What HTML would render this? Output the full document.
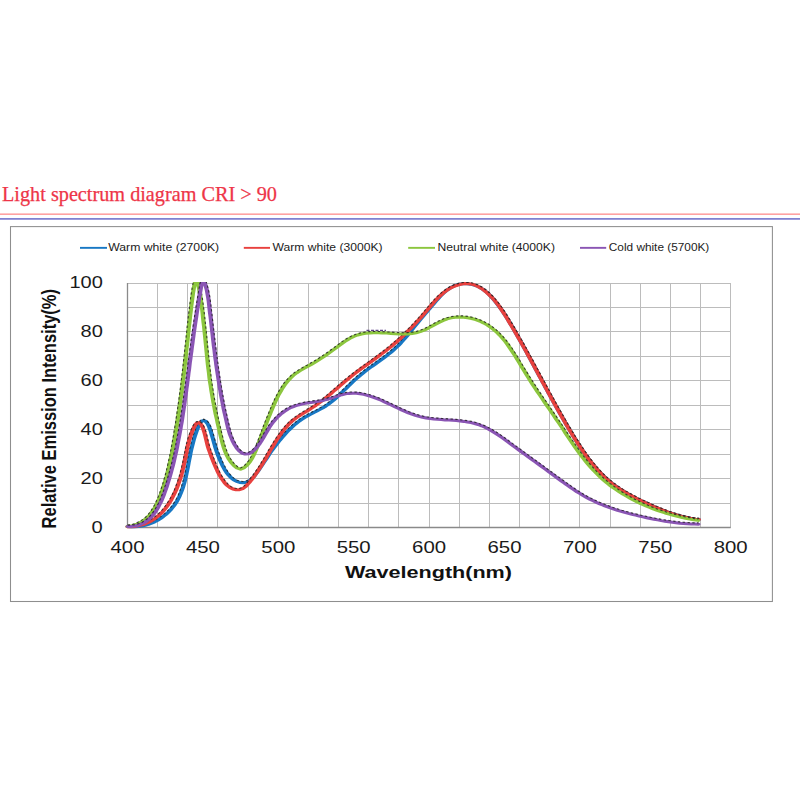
<!DOCTYPE html>
<html lang="en"><head><meta charset="utf-8"><title>Light spectrum diagram CRI &gt; 90</title>
<style>
html,body{margin:0;padding:0;background:#fff}
body{width:800px;height:800px;position:relative;overflow:hidden;font-family:"Liberation Sans",sans-serif}
svg text{font-family:"Liberation Sans",sans-serif}
svg text.ttl{font-family:"Liberation Serif",serif}
</style></head><body>
<svg width="800" height="800" viewBox="0 0 800 800" style="position:absolute;left:0;top:0">
<rect x="0" y="213.6" width="800" height="1.05" fill="#ff7070"/>
<rect x="0" y="218.1" width="800" height="1.6" fill="#7474cc"/>
<rect x="10.5" y="226.6" width="761.9" height="374.9" fill="#fff" stroke="#8e8e8e" stroke-width="1.05"/>
<path d="M127.5 283.0V527.5M157.5 283.0V527.5M187.5 283.0V527.5M217.5 283.0V527.5M248.5 283.0V527.5M278.5 283.0V527.5M308.5 283.0V527.5M338.5 283.0V527.5M368.5 283.0V527.5M398.5 283.0V527.5M429.5 283.0V527.5M459.5 283.0V527.5M489.5 283.0V527.5M519.5 283.0V527.5M549.5 283.0V527.5M579.5 283.0V527.5M610.5 283.0V527.5M640.5 283.0V527.5M670.5 283.0V527.5M700.5 283.0V527.5M730.5 283.0V527.5M127.5 527.5H730.7M127.5 503.5H730.7M127.5 478.5H730.7M127.5 454.5H730.7M127.5 429.5H730.7M127.5 405.5H730.7M127.5 380.5H730.7M127.5 356.5H730.7M127.5 331.5H730.7M127.5 307.5H730.7M127.5 283.5H730.7" fill="none" stroke="#bcbcbc" stroke-width="1"/>
<path d="M127.50 283.00V527.50H730.70" fill="none" stroke="#8a8a8a" stroke-width="1.3"/>
<clipPath id="pc"><rect x="124.5" y="282.1" width="609.2" height="247.7"/></clipPath>
<g clip-path="url(#pc)" fill="none">
<path d="M91.2 526.6L93.7 526.8L96.2 526.8L98.7 526.6L101.2 526.1L103.6 525.3L105.9 524.4L108.2 523.2L110.4 521.9L112.5 520.3L114.5 518.6L116.5 516.6L118.4 514.5L120.1 512.3L121.8 509.9L123.3 507.3L124.8 504.7L126.1 501.9L127.2 498.9L128.3 495.9L129.2 492.8L130.1 489.6L130.9 486.3L131.6 483.0L132.2 479.7L132.8 476.3L133.3 472.9L133.8 469.5L134.3 466.1L134.7 462.7L135.2 459.4L135.7 456.1L136.1 452.8L136.6 449.5L137.2 446.2L137.8 442.9L138.4 439.7L139.1 436.4L139.9 433.1L140.7 429.8L141.7 426.5L142.8 423.4L144.0 421.2L145.4 420.5L146.9 421.4L148.3 423.7L149.4 426.8L150.4 430.5L151.2 434.4L152.0 438.3L152.7 441.8L153.4 445.1L154.0 448.2L154.7 451.1L155.4 454.0L156.2 456.8L157.1 459.8L158.1 463.0L159.2 466.2L160.4 469.3L161.8 472.4L163.4 475.2L165.1 477.7L166.9 479.8L169.0 481.4L171.3 482.4L173.6 482.8L175.9 482.3L178.0 481.0L179.9 478.8L181.6 476.2L183.1 473.4L184.6 470.5L186.0 467.7L187.3 464.9L188.6 462.1L190.0 459.3L191.3 456.5L192.6 453.7L194.0 450.9L195.4 448.2L196.9 445.5L198.4 442.8L199.9 440.1L201.5 437.5L203.1 434.9L204.7 432.4L206.4 430.0L208.2 427.6L209.9 425.3L211.8 423.2L213.7 421.1L215.7 419.2L217.7 417.3L219.8 415.7L222.0 414.1L224.1 412.5L226.3 411.0L228.5 409.4L230.6 407.8L232.7 406.0L234.6 404.1L236.6 402.0L238.4 399.9L240.3 397.7L242.0 395.4L243.8 393.1L245.5 390.7L247.3 388.3L249.0 385.9L250.7 383.6L252.5 381.2L254.3 378.9L256.1 376.7L258.0 374.5L259.8 372.4L261.8 370.3L263.7 368.3L265.7 366.3L267.7 364.4L269.6 362.4L271.6 360.4L273.6 358.4L275.5 356.4L277.4 354.3L279.3 352.2L281.1 350.0L282.9 347.7L284.7 345.3L286.4 342.8L288.0 340.3L289.6 337.7L291.2 335.1L292.7 332.4L294.3 329.7L295.8 327.1L297.3 324.5L298.8 321.9L300.4 319.3L301.9 316.8L303.4 314.2L305.0 311.7L306.5 309.1L308.1 306.5L309.7 303.9L311.3 301.2L313.0 298.6L314.7 296.0L316.4 293.6L318.3 291.3L320.2 289.3L322.2 287.5L324.3 286.0L326.5 284.9L328.8 284.1L331.2 283.8L333.7 283.8L336.1 284.2L338.5 285.0L340.8 286.1L342.9 287.6L345.0 289.4L346.9 291.4L348.7 293.6L350.5 296.1L352.1 298.6L353.7 301.2L355.2 303.9L356.7 306.7L358.1 309.4L359.5 312.3L360.8 315.1L362.1 318.0L363.4 320.9L364.6 323.8L365.9 326.7L367.1 329.6L368.3 332.6L369.5 335.5L370.7 338.5L371.9 341.4L373.1 344.4L374.2 347.3L375.4 350.3L376.6 353.3L377.7 356.3L378.9 359.2L380.0 362.2L381.2 365.2L382.3 368.2L383.5 371.2L384.6 374.2L385.8 377.1L386.9 380.1L388.1 383.1L389.2 386.1L390.4 389.1L391.5 392.1L392.7 395.0L393.9 398.0L395.0 401.0L396.2 404.0L397.4 406.9L398.6 409.9L399.8 412.9L401.0 415.8L402.2 418.8L403.4 421.7L404.6 424.6L405.9 427.6L407.1 430.5L408.4 433.4L409.6 436.3L410.9 439.2L412.2 442.1L413.5 445.0L414.9 447.9L416.2 450.7L417.6 453.5L419.0 456.3L420.5 459.0L421.9 461.7L423.5 464.3L425.0 466.9L426.6 469.5L428.2 471.9L429.9 474.4L431.6 476.7L433.3 479.0L435.1 481.2L437.0 483.3L438.9 485.3L440.9 487.3L442.9 489.2L445.0 491.0L447.1 492.7L449.2 494.4L451.4 496.1L453.5 497.6L455.7 499.2L457.9 500.7L460.2 502.1L462.4 503.6L464.6 505.0L466.8 506.4L469.0 507.7L471.2 509.0L473.5 510.3L475.7 511.5L478.0 512.6L480.3 513.7L482.6 514.7L484.9 515.7L487.2 516.5L489.6 517.3L491.9 518.0L494.3 518.7L496.8 519.2L499.2 519.6" transform="scale(1.400,1)" stroke="#1878c4" stroke-width="3.0" stroke-linecap="round" stroke-linejoin="round"/>
<path d="M127.8 525.3L131.3 525.6L134.7 525.6L138.0 525.3L141.3 524.8L144.6 524.1L147.7 523.2L150.8 522.1L153.8 520.7L156.7 519.2L159.4 517.5L162.1 515.6L164.6 513.6L167.0 511.4L169.2 509.1L171.3 506.6L173.3 503.9L175.0 501.2L176.6 498.4L178.1 495.4L179.4 492.3L180.5 489.2L181.6 486.0L182.6 482.7L183.4 479.4L184.2 476.0L185.0 472.6L185.7 469.3L186.3 465.9L187.0 462.5L187.6 459.2L188.3 455.8L188.9 452.5L189.6 449.2L190.4 445.9L191.2 442.6L192.1 439.3L193.1 436.0L194.2 432.7L195.5 429.3L196.8 426.0L198.5 422.8L200.6 420.2L203.7 419.2L206.8 420.5L209.0 423.0L210.7 426.3L212.2 430.1L213.4 434.1L214.4 438.0L215.4 441.5L216.4 444.8L217.3 447.8L218.2 450.7L219.2 453.5L220.3 456.4L221.5 459.3L222.9 462.4L224.4 465.6L226.1 468.7L227.9 471.7L230.0 474.4L232.2 476.8L234.7 478.8L237.3 480.3L240.1 481.2L243.0 481.5L245.8 481.1L248.4 479.9L250.7 477.9L252.9 475.4L255.0 472.6L257.0 469.8L258.9 467.0L260.8 464.2L262.7 461.4L264.5 458.6L266.4 455.8L268.3 453.0L270.2 450.2L272.3 447.4L274.3 444.7L276.4 442.0L278.6 439.3L280.8 436.7L283.1 434.1L285.4 431.6L287.8 429.1L290.3 426.7L292.8 424.4L295.4 422.2L298.2 420.1L301.0 418.1L303.9 416.3L306.9 414.6L310.0 413.0L313.0 411.4L316.1 409.9L319.1 408.3L322.0 406.7L324.8 404.9L327.5 403.0L330.1 401.0L332.7 398.9L335.2 396.8L337.7 394.5L340.1 392.2L342.6 389.8L345.0 387.4L347.4 385.0L349.9 382.7L352.3 380.3L354.9 378.0L357.4 375.7L360.1 373.5L362.7 371.4L365.5 369.3L368.2 367.3L371.0 365.3L373.7 363.3L376.5 361.4L379.3 359.4L382.0 357.4L384.7 355.4L387.3 353.3L389.9 351.2L392.5 349.0L394.9 346.8L397.3 344.4L399.7 342.0L401.9 339.5L404.2 336.9L406.4 334.3L408.5 331.6L410.7 329.0L412.8 326.3L414.9 323.7L417.1 321.1L419.2 318.5L421.3 316.0L423.5 313.4L425.7 310.9L427.8 308.3L430.0 305.7L432.3 303.0L434.6 300.4L436.9 297.7L439.3 295.2L441.8 292.7L444.5 290.4L447.2 288.3L450.2 286.4L453.3 284.9L456.6 283.7L460.0 282.9L463.6 282.5L467.2 282.6L470.8 283.0L474.4 283.8L477.8 285.0L480.9 286.5L483.9 288.3L486.7 290.4L489.4 292.7L491.9 295.2L494.2 297.8L496.5 300.5L498.6 303.2L500.7 305.9L502.7 308.7L504.7 311.6L506.6 314.4L508.4 317.3L510.2 320.2L511.9 323.1L513.7 326.1L515.4 329.0L517.1 331.9L518.8 334.9L520.4 337.8L522.1 340.8L523.8 343.8L525.4 346.7L527.0 349.7L528.7 352.7L530.3 355.7L531.9 358.6L533.5 361.6L535.1 364.6L536.8 367.6L538.4 370.6L540.0 373.6L541.6 376.5L543.2 379.5L544.8 382.5L546.4 385.5L548.0 388.5L549.6 391.5L551.3 394.4L552.9 397.4L554.5 400.4L556.2 403.4L557.8 406.3L559.5 409.3L561.1 412.2L562.8 415.2L564.5 418.1L566.2 421.1L567.9 424.0L569.7 426.9L571.4 429.9L573.2 432.8L574.9 435.7L576.7 438.6L578.6 441.5L580.4 444.3L582.3 447.2L584.1 450.0L586.1 452.8L588.0 455.5L590.0 458.3L592.1 460.9L594.2 463.5L596.3 466.1L598.5 468.6L600.7 471.1L603.0 473.5L605.4 475.8L607.8 478.1L610.3 480.2L612.9 482.3L615.5 484.3L618.2 486.3L621.0 488.1L623.9 489.9L626.8 491.7L629.7 493.3L632.7 494.9L635.7 496.5L638.8 498.1L641.9 499.6L644.9 501.0L648.0 502.5L651.1 503.9L654.2 505.2L657.3 506.6L660.4 507.9L663.5 509.1L666.6 510.3L669.8 511.4L672.9 512.5L676.1 513.5L679.3 514.5L682.5 515.3L685.8 516.1L689.0 516.8L692.3 517.4L695.7 517.9L699.1 518.4" stroke="#1e1e1e" stroke-opacity=".8" stroke-width="1.1" stroke-dasharray="2.4 2.4"/>
<path d="M91.0 526.8L93.8 526.7L96.4 526.4L99.0 525.7L101.4 524.9L103.7 523.8L105.9 522.5L108.0 521.0L110.0 519.2L111.8 517.3L113.6 515.2L115.3 513.0L116.9 510.6L118.4 508.0L119.8 505.3L121.1 502.5L122.4 499.6L123.5 496.6L124.6 493.5L125.7 490.3L126.6 487.0L127.5 483.7L128.3 480.4L129.1 477.0L129.8 473.6L130.4 470.2L131.0 466.8L131.5 463.4L132.0 460.1L132.5 456.7L133.0 453.4L133.4 450.1L133.9 446.8L134.5 443.5L135.1 440.3L135.8 437.0L136.6 433.8L137.5 430.6L138.5 427.4L139.7 424.5L141.0 422.7L142.4 422.8L143.8 424.7L145.0 428.0L145.9 431.8L146.6 435.5L147.2 439.1L147.8 442.6L148.4 445.9L149.1 449.1L149.9 452.2L150.7 455.3L151.5 458.4L152.4 461.5L153.3 464.6L154.3 467.7L155.3 470.9L156.4 474.0L157.6 477.0L159.0 479.9L160.5 482.8L162.2 485.3L164.2 487.5L166.4 489.0L168.7 489.8L171.1 489.7L173.3 488.7L175.2 486.8L176.9 484.3L178.6 481.6L180.1 478.9L181.6 476.2L183.0 473.4L184.3 470.6L185.7 467.7L187.0 464.9L188.2 462.0L189.5 459.1L190.7 456.2L191.9 453.2L193.1 450.3L194.4 447.3L195.7 444.3L197.0 441.4L198.3 438.5L199.7 435.6L201.1 432.8L202.6 430.1L204.2 427.4L205.8 424.9L207.5 422.5L209.3 420.3L211.3 418.2L213.2 416.3L215.3 414.4L217.4 412.6L219.5 410.8L221.6 409.0L223.6 407.2L225.6 405.3L227.6 403.3L229.6 401.3L231.5 399.2L233.4 397.0L235.2 394.9L237.1 392.7L238.9 390.4L240.8 388.2L242.6 386.0L244.5 383.8L246.3 381.5L248.2 379.4L250.1 377.2L252.0 375.1L253.9 373.0L255.9 370.9L257.8 368.9L259.8 366.9L261.8 364.9L263.8 362.9L265.8 360.9L267.8 358.9L269.7 356.9L271.7 354.8L273.6 352.8L275.6 350.7L277.5 348.6L279.4 346.5L281.2 344.3L283.1 342.0L284.9 339.8L286.7 337.5L288.5 335.2L290.2 332.8L291.9 330.4L293.6 328.0L295.3 325.5L297.0 323.0L298.6 320.5L300.3 318.0L301.9 315.4L303.5 312.8L305.1 310.2L306.7 307.5L308.3 304.9L309.9 302.3L311.5 299.8L313.2 297.3L315.0 295.0L316.8 292.8L318.8 290.7L320.8 288.9L322.9 287.3L325.2 285.9L327.5 284.8L329.9 284.0L332.3 283.6L334.7 283.7L337.0 284.2L339.3 285.2L341.5 286.5L343.7 288.3L345.7 290.3L347.7 292.5L349.5 294.8L351.3 297.3L352.9 299.8L354.5 302.5L356.0 305.2L357.4 308.0L358.8 310.8L360.1 313.6L361.4 316.5L362.7 319.4L363.9 322.4L365.2 325.3L366.4 328.2L367.7 331.2L368.9 334.1L370.1 337.1L371.3 340.0L372.5 343.0L373.7 346.0L374.9 348.9L376.1 351.9L377.2 354.9L378.4 357.9L379.6 360.9L380.7 363.9L381.9 366.9L383.0 369.9L384.2 372.9L385.3 375.9L386.5 378.9L387.6 381.9L388.8 384.9L390.0 387.9L391.1 390.9L392.3 393.9L393.4 396.9L394.6 399.9L395.8 402.9L397.0 405.9L398.2 408.9L399.4 411.9L400.6 414.9L401.8 417.9L403.0 420.8L404.2 423.8L405.5 426.7L406.7 429.7L408.0 432.6L409.3 435.6L410.6 438.5L411.9 441.4L413.2 444.3L414.5 447.2L415.9 450.0L417.3 452.8L418.7 455.6L420.1 458.4L421.6 461.1L423.1 463.8L424.7 466.4L426.2 468.9L427.9 471.4L429.5 473.9L431.3 476.3L433.0 478.6L434.8 480.8L436.7 482.9L438.6 485.0L440.6 487.0L442.6 488.9L444.7 490.7L446.8 492.5L448.9 494.2L451.1 495.8L453.3 497.4L455.5 499.0L457.7 500.5L459.9 502.0L462.1 503.5L464.4 504.9L466.6 506.3L468.8 507.6L471.1 508.9L473.3 510.2L475.6 511.4L477.9 512.6L480.2 513.7L482.5 514.7L484.8 515.6L487.1 516.5L489.5 517.3L491.9 518.0L494.3 518.6L496.7 519.2L499.2 519.6" transform="scale(1.400,1)" stroke="#e8413e" stroke-width="3.0" stroke-linecap="round" stroke-linejoin="round"/>
<path d="M127.4 525.6L131.2 525.5L134.8 525.1L138.2 524.5L141.5 523.7L144.6 522.6L147.5 521.4L150.3 519.9L153.0 518.2L155.5 516.3L157.9 514.3L160.2 512.1L162.4 509.7L164.4 507.2L166.3 504.6L168.1 501.8L169.9 499.0L171.5 496.0L173.0 492.9L174.4 489.8L175.7 486.6L176.9 483.3L178.0 480.0L179.1 476.7L180.0 473.3L180.9 469.9L181.7 466.5L182.5 463.2L183.2 459.8L183.8 456.5L184.5 453.1L185.1 449.8L185.8 446.5L186.6 443.2L187.5 439.9L188.5 436.7L189.6 433.4L190.9 430.1L192.4 426.9L194.2 423.8L196.7 421.6L200.2 421.7L202.7 424.0L204.5 427.6L205.9 431.4L206.9 435.2L207.7 438.8L208.5 442.3L209.4 445.5L210.4 448.7L211.5 451.8L212.6 454.9L213.7 457.9L215.0 461.0L216.2 464.1L217.5 467.2L218.9 470.3L220.4 473.4L222.1 476.4L223.9 479.2L226.0 481.9L228.2 484.4L230.7 486.4L233.5 487.8L236.4 488.5L239.2 488.5L241.8 487.6L244.2 485.9L246.4 483.5L248.7 480.8L250.8 478.1L252.8 475.4L254.8 472.7L256.7 469.9L258.5 467.1L260.3 464.2L262.0 461.3L263.8 458.5L265.5 455.5L267.2 452.6L268.9 449.6L270.7 446.6L272.5 443.7L274.3 440.7L276.2 437.8L278.2 434.9L280.2 432.0L282.3 429.3L284.6 426.6L286.9 424.1L289.4 421.6L292.0 419.3L294.7 417.2L297.6 415.2L300.5 413.3L303.4 411.5L306.4 409.7L309.3 408.0L312.1 406.1L314.9 404.2L317.7 402.3L320.4 400.3L323.0 398.2L325.7 396.1L328.3 393.9L330.8 391.7L333.4 389.5L336.0 387.3L338.6 385.0L341.1 382.8L343.7 380.6L346.4 378.4L349.0 376.2L351.7 374.1L354.5 372.0L357.2 369.9L360.0 367.9L362.7 365.9L365.5 363.9L368.3 361.9L371.1 359.9L373.9 357.9L376.6 355.8L379.4 353.8L382.1 351.8L384.8 349.7L387.4 347.6L390.1 345.5L392.6 343.3L395.2 341.1L397.7 338.9L400.2 336.6L402.7 334.3L405.1 331.9L407.5 329.5L409.9 327.1L412.2 324.7L414.5 322.2L416.8 319.7L419.1 317.1L421.4 314.6L423.6 312.0L425.8 309.3L428.1 306.7L430.3 304.1L432.6 301.5L434.9 298.9L437.3 296.4L439.9 294.1L442.5 291.8L445.3 289.7L448.2 287.8L451.3 286.1L454.6 284.7L458.1 283.6L461.6 282.8L465.1 282.4L468.7 282.4L472.3 283.0L475.7 284.0L478.9 285.4L482.1 287.2L485.0 289.3L487.8 291.5L490.5 293.9L493.0 296.4L495.3 299.0L497.6 301.7L499.7 304.5L501.7 307.3L503.7 310.1L505.6 313.0L507.4 315.9L509.2 318.8L511.0 321.7L512.7 324.6L514.5 327.6L516.2 330.5L517.9 333.5L519.6 336.4L521.3 339.4L523.0 342.4L524.7 345.3L526.3 348.3L528.0 351.3L529.6 354.3L531.2 357.3L532.9 360.3L534.5 363.3L536.1 366.3L537.7 369.3L539.4 372.3L541.0 375.3L542.6 378.3L544.2 381.3L545.8 384.3L547.4 387.3L549.1 390.3L550.7 393.3L552.3 396.3L554.0 399.3L555.6 402.3L557.3 405.3L558.9 408.3L560.6 411.3L562.3 414.3L564.0 417.2L565.7 420.2L567.4 423.1L569.1 426.1L570.9 429.0L572.6 432.0L574.4 434.9L576.2 437.8L578.0 440.7L579.9 443.6L581.7 446.5L583.6 449.3L585.6 452.1L587.5 454.9L589.5 457.6L591.6 460.3L593.7 463.0L595.8 465.6L598.0 468.1L600.3 470.6L602.6 473.0L604.9 475.4L607.4 477.6L609.9 479.8L612.4 482.0L615.1 484.0L617.8 485.9L620.6 487.8L623.4 489.6L626.4 491.4L629.3 493.1L632.3 494.7L635.4 496.3L638.4 497.9L641.5 499.4L644.6 500.9L647.7 502.3L650.8 503.7L653.9 505.1L657.0 506.5L660.1 507.8L663.3 509.0L666.4 510.2L669.6 511.4L672.7 512.5L675.9 513.5L679.2 514.4L682.4 515.3L685.7 516.1L689.0 516.8L692.3 517.4L695.7 517.9L699.1 518.4" stroke="#1e1e1e" stroke-opacity=".8" stroke-width="1.1" stroke-dasharray="2.4 2.4"/>
<path d="M91.2 526.5L94.5 525.7L97.5 524.4L100.3 522.6L102.7 520.5L104.9 517.9L106.9 515.0L108.7 511.8L110.3 508.3L111.8 504.6L113.1 500.8L114.3 496.8L115.3 492.8L116.3 488.7L117.3 484.7L118.1 480.6L119.0 476.5L119.7 472.4L120.5 468.3L121.1 464.2L121.8 460.1L122.4 456.0L123.0 451.9L123.5 447.8L124.1 443.7L124.6 439.5L125.1 435.4L125.6 431.3L126.1 427.1L126.5 423.0L127.0 418.8L127.4 414.7L127.9 410.5L128.3 406.3L128.7 402.1L129.1 398.0L129.5 393.8L129.9 389.6L130.3 385.4L130.6 381.2L131.0 377.0L131.4 372.8L131.7 368.6L132.0 364.4L132.4 360.1L132.7 355.9L133.0 351.7L133.3 347.5L133.7 343.3L134.0 339.2L134.3 335.0L134.6 330.8L134.9 326.7L135.3 322.6L135.6 318.4L135.9 314.4L136.3 310.3L136.6 306.2L137.0 302.1L137.4 297.9L137.8 293.4L138.4 288.5L139.1 283.5L139.9 280.1L140.7 280.2L141.5 283.7L142.2 288.7L142.8 293.6L143.3 298.0L143.7 302.2L144.1 306.2L144.5 310.2L144.8 314.2L145.1 318.3L145.4 322.4L145.8 326.6L146.1 330.8L146.4 335.0L146.7 339.2L147.0 343.4L147.3 347.7L147.6 351.9L147.9 356.2L148.2 360.4L148.5 364.7L148.9 368.9L149.3 373.1L149.6 377.3L150.0 381.5L150.5 385.6L150.9 389.7L151.4 393.8L151.9 397.9L152.4 402.0L153.0 406.0L153.5 410.1L154.1 414.2L154.8 418.3L155.4 422.4L156.1 426.5L156.8 430.7L157.5 434.9L158.2 439.1L159.0 443.4L159.9 447.6L160.9 451.6L162.1 455.5L163.5 459.1L165.2 462.5L167.1 465.5L169.3 468.0L171.8 469.2L174.4 467.6L176.7 464.7L178.6 461.4L180.2 457.8L181.6 453.9L182.9 449.9L184.0 445.9L185.1 441.9L186.2 438.0L187.2 434.0L188.3 430.1L189.4 426.2L190.5 422.3L191.5 418.5L192.7 414.6L193.8 410.7L195.0 406.9L196.2 403.0L197.5 399.1L198.8 395.3L200.3 391.6L201.8 388.0L203.5 384.5L205.4 381.2L207.4 378.1L209.5 375.3L211.9 372.8L214.5 370.5L217.1 368.3L219.8 366.3L222.5 364.2L225.1 362.1L227.6 359.9L230.1 357.7L232.6 355.4L235.0 353.0L237.4 350.5L239.9 348.0L242.3 345.5L244.8 342.9L247.3 340.5L249.9 338.3L252.6 336.4L255.4 335.0L258.2 334.0L261.1 333.3L264.1 332.9L267.0 332.7L270.1 332.7L273.1 332.9L276.2 333.1L279.2 333.4L282.3 333.7L285.3 333.9L288.3 334.0L291.3 333.9L294.3 333.5L297.2 332.8L300.0 331.7L302.8 330.2L305.5 328.4L308.3 326.3L311.0 324.2L313.8 322.2L316.5 320.4L319.4 318.9L322.3 317.9L325.2 317.3L328.2 317.0L331.2 317.2L334.1 317.7L337.0 318.5L339.9 319.7L342.7 321.1L345.4 322.9L348.0 324.9L350.4 327.2L352.8 329.7L355.0 332.4L357.1 335.3L359.1 338.4L361.0 341.6L362.8 345.0L364.5 348.5L366.2 352.0L367.9 355.7L369.5 359.3L371.1 363.0L372.7 366.8L374.3 370.4L375.9 374.1L377.5 377.7L379.1 381.3L380.7 384.8L382.4 388.3L384.0 391.8L385.7 395.2L387.4 398.7L389.0 402.1L390.7 405.5L392.4 408.9L394.1 412.4L395.8 415.8L397.4 419.3L399.1 422.7L400.8 426.2L402.5 429.7L404.1 433.3L405.8 436.8L407.5 440.3L409.2 443.8L410.9 447.3L412.7 450.8L414.5 454.2L416.3 457.6L418.2 460.9L420.1 464.2L422.1 467.4L424.1 470.5L426.2 473.5L428.3 476.4L430.5 479.3L432.8 482.0L435.1 484.6L437.5 487.1L440.0 489.5L442.5 491.9L445.0 494.1L447.6 496.2L450.2 498.3L452.9 500.3L455.6 502.2L458.3 504.0L461.1 505.7L463.8 507.3L466.6 508.9L469.5 510.3L472.3 511.7L475.2 513.0L478.1 514.2L481.0 515.4L483.9 516.4L486.8 517.4L489.7 518.3L492.7 519.1L495.6 519.8L498.6 520.4" transform="scale(1.400,1)" stroke="#8cc63e" stroke-width="3.0" stroke-linecap="round" stroke-linejoin="round"/>
<path d="M127.4 525.2L131.9 524.5L135.9 523.2L139.6 521.5L142.8 519.4L145.8 517.0L148.4 514.2L150.8 511.0L153.0 507.7L155.0 504.1L156.7 500.3L158.4 496.4L159.9 492.4L161.3 488.3L162.6 484.3L163.8 480.2L164.9 476.2L166.0 472.1L167.0 468.0L167.9 463.9L168.8 459.9L169.7 455.8L170.5 451.7L171.3 447.6L172.0 443.4L172.7 439.3L173.5 435.2L174.1 431.1L174.8 426.9L175.5 422.8L176.1 418.6L176.7 414.5L177.3 410.3L177.9 406.1L178.5 402.0L179.1 397.8L179.6 393.6L180.2 389.4L180.7 385.2L181.2 381.0L181.7 376.8L182.2 372.6L182.7 368.4L183.2 364.2L183.6 360.0L184.1 355.8L184.5 351.6L185.0 347.4L185.4 343.2L185.9 339.0L186.3 334.9L186.8 330.7L187.2 326.5L187.7 322.4L188.1 318.3L188.6 314.2L189.1 310.1L189.6 306.1L190.1 302.0L190.6 297.7L191.3 293.2L192.1 288.3L193.1 283.2L194.4 279.4L198.4 279.5L199.7 283.4L200.7 288.4L201.6 293.4L202.3 297.8L202.9 302.0L203.4 306.0L203.9 310.0L204.4 314.1L204.9 318.2L205.3 322.3L205.7 326.5L206.2 330.6L206.6 334.8L207.0 339.1L207.4 343.3L207.8 347.5L208.3 351.8L208.7 356.0L209.2 360.3L209.6 364.5L210.1 368.8L210.6 373.0L211.2 377.1L211.7 381.3L212.3 385.4L213.0 389.5L213.6 393.6L214.3 397.7L215.1 401.7L215.8 405.8L216.6 409.9L217.5 413.9L218.3 418.0L219.2 422.1L220.2 426.3L221.1 430.4L222.1 434.6L223.2 438.8L224.3 443.0L225.5 447.2L226.9 451.2L228.5 455.0L230.4 458.5L232.6 461.7L235.1 464.6L237.9 466.9L240.5 467.9L243.2 466.6L246.1 463.8L248.7 460.6L250.8 457.1L252.7 453.4L254.4 449.5L256.0 445.5L257.5 441.5L259.1 437.5L260.6 433.6L262.0 429.7L263.5 425.8L265.0 421.9L266.6 418.0L268.1 414.1L269.8 410.3L271.4 406.4L273.1 402.5L274.9 398.6L276.9 394.7L278.9 391.0L281.1 387.3L283.5 383.7L286.2 380.4L289.1 377.2L292.3 374.3L295.7 371.7L299.4 369.4L303.1 367.2L306.9 365.2L310.6 363.1L314.2 361.0L317.8 358.9L321.2 356.6L324.6 354.3L328.0 352.0L331.4 349.5L334.8 347.0L338.2 344.5L341.7 341.9L345.4 339.4L349.1 337.2L353.0 335.3L357.0 333.8L361.1 332.8L365.3 332.0L369.6 331.6L373.8 331.4L378.1 331.5L382.4 331.6L386.7 331.9L391.0 332.1L395.3 332.4L399.5 332.6L403.7 332.7L407.7 332.6L411.7 332.3L415.6 331.6L419.5 330.5L423.2 329.1L427.0 327.2L430.8 325.2L434.6 323.1L438.5 321.0L442.5 319.2L446.7 317.7L450.9 316.7L455.2 316.0L459.5 315.8L463.8 315.9L468.1 316.4L472.3 317.3L476.4 318.5L480.4 320.0L484.3 321.8L488.1 323.8L491.6 326.2L495.0 328.7L498.1 331.5L501.1 334.5L504.0 337.6L506.7 340.9L509.3 344.3L511.8 347.8L514.2 351.4L516.5 355.0L518.8 358.7L521.0 362.4L523.2 366.1L525.4 369.8L527.7 373.4L529.9 377.0L532.2 380.6L534.5 384.1L536.8 387.6L539.1 391.1L541.4 394.5L543.7 398.0L546.1 401.4L548.4 404.8L550.7 408.2L553.1 411.7L555.5 415.1L557.8 418.6L560.2 422.0L562.5 425.5L564.8 429.0L567.2 432.6L569.5 436.1L571.9 439.6L574.3 443.1L576.7 446.6L579.2 450.1L581.7 453.5L584.2 456.9L586.8 460.2L589.4 463.4L592.2 466.6L595.0 469.7L597.8 472.6L600.8 475.5L603.9 478.3L607.0 481.0L610.2 483.6L613.6 486.1L616.9 488.5L620.4 490.8L623.9 493.0L627.5 495.2L631.1 497.2L634.8 499.2L638.6 501.0L642.3 502.8L646.1 504.5L650.0 506.2L653.9 507.7L657.8 509.2L661.8 510.5L665.7 511.8L669.8 513.0L673.8 514.2L677.8 515.2L681.9 516.2L686.0 517.0L690.1 517.8L694.2 518.6L698.3 519.2" stroke="#1e1e1e" stroke-opacity=".8" stroke-width="1.1" stroke-dasharray="2.4 2.4"/>
<path d="M91.3 526.5L94.3 526.4L97.1 525.8L99.7 524.7L102.1 523.3L104.3 521.5L106.3 519.3L108.1 516.8L109.8 514.1L111.3 511.1L112.7 508.0L113.9 504.6L115.1 501.2L116.2 497.6L117.2 494.0L118.1 490.4L119.0 486.8L119.8 483.2L120.6 479.6L121.4 476.0L122.1 472.4L122.8 468.8L123.5 465.2L124.1 461.7L124.7 458.1L125.3 454.5L125.9 450.8L126.4 447.2L126.9 443.6L127.4 439.9L127.9 436.3L128.4 432.6L128.9 428.9L129.3 425.2L129.8 421.5L130.2 417.8L130.6 414.1L131.0 410.4L131.4 406.6L131.8 402.9L132.1 399.2L132.5 395.5L132.9 391.7L133.2 388.0L133.6 384.3L133.9 380.6L134.3 376.8L134.6 373.1L135.0 369.4L135.3 365.7L135.6 362.0L136.0 358.4L136.3 354.7L136.7 351.0L137.0 347.4L137.4 343.7L137.7 340.1L138.1 336.4L138.4 332.8L138.8 329.1L139.2 325.4L139.6 321.7L140.0 318.0L140.4 314.2L140.8 310.4L141.2 306.6L141.7 302.8L142.1 298.9L142.6 295.0L143.1 291.0L143.6 287.0L144.1 283.3L144.7 280.8L145.4 280.4L146.1 282.3L146.9 285.6L147.7 289.6L148.2 293.5L148.7 297.4L149.1 301.2L149.4 305.0L149.7 308.8L150.0 312.6L150.4 316.3L150.7 320.1L151.0 323.8L151.3 327.6L151.6 331.3L151.9 335.0L152.2 338.8L152.5 342.5L152.8 346.2L153.2 349.9L153.5 353.6L153.8 357.3L154.2 361.0L154.5 364.7L154.9 368.3L155.3 372.0L155.7 375.7L156.1 379.4L156.5 383.0L156.9 386.7L157.4 390.4L157.8 394.1L158.3 397.7L158.8 401.4L159.3 405.1L159.8 408.7L160.4 412.4L161.0 416.1L161.6 419.7L162.2 423.4L162.8 427.1L163.5 430.7L164.3 434.3L165.3 437.9L166.3 441.3L167.6 444.7L169.1 447.9L170.8 450.8L172.8 453.1L175.1 454.1L177.5 453.7L179.8 452.1L181.9 449.6L183.8 446.6L185.5 443.5L186.9 440.3L188.3 437.1L189.6 433.9L190.9 430.8L192.2 427.6L193.7 424.6L195.3 421.6L197.1 418.7L199.0 416.0L201.1 413.4L203.3 411.2L205.6 409.1L208.0 407.4L210.4 406.1L212.9 405.0L215.5 404.1L218.0 403.3L220.7 402.7L223.3 402.2L226.0 401.6L228.6 401.0L231.3 400.2L233.9 399.3L236.5 398.2L239.0 397.0L241.6 395.8L244.1 394.7L246.7 393.9L249.3 393.4L251.9 393.2L254.6 393.3L257.2 393.8L259.8 394.4L262.4 395.3L264.9 396.4L267.4 397.6L269.9 398.9L272.4 400.3L274.8 401.9L277.2 403.5L279.6 405.1L282.1 406.7L284.5 408.3L286.9 409.9L289.4 411.4L291.8 412.9L294.3 414.2L296.8 415.4L299.3 416.4L301.9 417.3L304.5 418.0L307.2 418.6L309.8 419.0L312.5 419.3L315.2 419.6L317.9 419.9L320.6 420.1L323.3 420.3L326.0 420.6L328.7 421.0L331.3 421.4L333.9 422.0L336.5 422.6L339.1 423.5L341.6 424.5L344.1 425.8L346.5 427.3L348.9 429.0L351.2 430.8L353.5 432.8L355.8 434.9L358.0 437.0L360.3 439.2L362.5 441.5L364.6 443.7L366.8 446.0L369.0 448.2L371.1 450.4L373.3 452.6L375.4 454.7L377.5 456.9L379.7 459.1L381.8 461.3L383.9 463.4L386.1 465.6L388.2 467.8L390.4 470.0L392.5 472.2L394.7 474.4L396.9 476.7L399.0 478.9L401.2 481.1L403.4 483.3L405.6 485.4L407.8 487.6L410.0 489.7L412.2 491.8L414.5 493.7L416.7 495.6L419.1 497.5L421.4 499.2L423.8 500.8L426.2 502.4L428.6 503.9L431.1 505.3L433.6 506.6L436.1 507.9L438.6 509.1L441.2 510.3L443.8 511.3L446.3 512.4L448.9 513.4L451.5 514.3L454.1 515.2L456.7 516.1L459.3 516.9L461.9 517.7L464.6 518.5L467.2 519.2L469.8 519.9L472.4 520.6L475.0 521.2L477.6 521.8L480.3 522.3L482.9 522.7L485.6 523.2L488.2 523.5L490.9 523.8L493.6 524.0L496.2 524.1L498.9 524.2" transform="scale(1.400,1)" stroke="#8a55b4" stroke-width="3.0" stroke-linecap="round" stroke-linejoin="round"/>
<path d="M127.7 525.2L131.9 525.1L135.6 524.6L139.0 523.6L142.2 522.2L145.0 520.4L147.7 518.4L150.1 516.0L152.3 513.3L154.4 510.4L156.2 507.3L158.0 504.1L159.6 500.7L161.1 497.2L162.5 493.6L163.8 490.0L165.0 486.4L166.2 482.8L167.3 479.2L168.3 475.6L169.3 472.1L170.3 468.5L171.2 464.9L172.1 461.4L172.9 457.8L173.8 454.2L174.5 450.6L175.3 447.0L176.0 443.3L176.7 439.7L177.4 436.0L178.1 432.4L178.7 428.7L179.4 425.0L180.0 421.3L180.6 417.6L181.1 413.9L181.7 410.2L182.3 406.5L182.8 402.7L183.3 399.0L183.8 395.3L184.3 391.6L184.8 387.8L185.3 384.1L185.8 380.4L186.3 376.7L186.8 373.0L187.3 369.3L187.7 365.6L188.2 361.9L188.7 358.2L189.2 354.5L189.6 350.9L190.1 347.2L190.6 343.6L191.1 339.9L191.6 336.2L192.1 332.6L192.7 328.9L193.2 325.2L193.7 321.5L194.3 317.8L194.9 314.0L195.5 310.2L196.1 306.4L196.7 302.6L197.3 298.7L198.0 294.8L198.6 290.8L199.3 286.8L200.1 283.0L201.1 280.2L204.5 279.4L206.2 281.8L207.3 285.3L208.4 289.3L209.2 293.3L209.9 297.2L210.4 301.1L210.9 304.9L211.3 308.7L211.8 312.4L212.2 316.2L212.6 320.0L213.0 323.7L213.5 327.4L213.9 331.2L214.3 334.9L214.8 338.6L215.2 342.3L215.7 346.0L216.1 349.7L216.6 353.4L217.1 357.1L217.6 360.8L218.1 364.5L218.6 368.2L219.1 371.8L219.6 375.5L220.2 379.2L220.8 382.8L221.4 386.5L222.0 390.2L222.6 393.8L223.3 397.5L224.0 401.2L224.7 404.8L225.4 408.5L226.2 412.1L227.0 415.8L227.8 419.5L228.7 423.1L229.6 426.8L230.6 430.4L231.7 433.9L232.9 437.4L234.4 440.8L236.1 444.0L238.1 447.2L240.3 450.0L242.7 452.0L245.3 452.8L248.0 452.5L250.8 451.1L253.5 448.7L256.0 445.8L258.3 442.7L260.3 439.6L262.1 436.5L263.9 433.3L265.8 430.1L267.7 427.0L269.8 423.8L272.1 420.8L274.7 417.9L277.5 415.1L280.5 412.5L283.6 410.1L287.0 408.1L290.4 406.3L294.0 404.9L297.6 403.7L301.3 402.8L305.0 402.1L308.7 401.5L312.4 400.9L316.1 400.4L319.8 399.8L323.4 399.0L327.0 398.1L330.5 397.1L334.1 395.9L337.7 394.6L341.3 393.5L345.1 392.6L348.9 392.1L352.7 391.9L356.5 392.1L360.3 392.5L364.1 393.2L367.8 394.1L371.4 395.2L375.0 396.4L378.5 397.7L382.0 399.2L385.4 400.7L388.8 402.3L392.2 404.0L395.6 405.6L399.0 407.2L402.4 408.8L405.8 410.3L409.2 411.7L412.6 413.0L416.0 414.2L419.5 415.2L423.0 416.1L426.6 416.8L430.3 417.3L433.9 417.8L437.7 418.1L441.4 418.4L445.2 418.6L448.9 418.9L452.7 419.1L456.5 419.4L460.3 419.7L464.0 420.2L467.8 420.7L471.5 421.4L475.2 422.3L478.8 423.4L482.3 424.7L485.8 426.2L489.2 427.9L492.6 429.7L495.8 431.7L499.1 433.8L502.2 436.0L505.4 438.2L508.4 440.5L511.5 442.7L514.5 445.0L517.6 447.2L520.6 449.4L523.6 451.6L526.6 453.7L529.5 455.9L532.5 458.1L535.5 460.3L538.5 462.4L541.5 464.6L544.5 466.8L547.5 469.0L550.6 471.2L553.6 473.4L556.6 475.6L559.7 477.8L562.7 480.0L565.8 482.2L568.8 484.4L571.9 486.6L574.9 488.7L578.0 490.7L581.1 492.7L584.3 494.6L587.5 496.4L590.7 498.1L594.0 499.7L597.4 501.3L600.8 502.7L604.2 504.1L607.6 505.5L611.1 506.7L614.6 507.9L618.2 509.1L621.7 510.2L625.3 511.2L628.9 512.2L632.5 513.1L636.2 514.0L639.8 514.9L643.4 515.7L647.1 516.5L650.7 517.3L654.4 518.0L658.0 518.7L661.7 519.4L665.3 520.0L669.0 520.5L672.6 521.0L676.3 521.5L680.0 521.9L683.6 522.2L687.3 522.5L691.1 522.7L694.8 522.9L698.6 522.9" stroke="#1e1e1e" stroke-opacity=".8" stroke-width="1.1" stroke-dasharray="2.4 2.4"/>
<path d="M366.5 330.4H386" stroke="#5b3f86" stroke-width="1.3" stroke-dasharray="3 1.5"/>
</g>
<rect x="80.0" y="246.9" width="27.0" height="1.9" fill="#1878c4"/>
<text x="108.2" y="251.2" font-size="11.6" fill="#1c1c1c" textLength="111.0" lengthAdjust="spacingAndGlyphs">Warm white (2700K)</text>
<rect x="243.8" y="246.9" width="26.2" height="1.9" fill="#e8413e"/>
<text x="272.5" y="251.2" font-size="11.6" fill="#1c1c1c" textLength="110.0" lengthAdjust="spacingAndGlyphs">Warm white (3000K)</text>
<rect x="408.2" y="246.9" width="26.8" height="1.9" fill="#8cc63e"/>
<text x="437.5" y="251.2" font-size="11.6" fill="#1c1c1c" textLength="117.5" lengthAdjust="spacingAndGlyphs">Neutral white (4000K)</text>
<rect x="580.0" y="246.9" width="26.2" height="1.9" fill="#8a55b4"/>
<text x="608.8" y="251.2" font-size="11.6" fill="#1c1c1c" textLength="100.5" lengthAdjust="spacingAndGlyphs">Cold white (5700K)</text>
<text x="91.6" y="532.7" font-size="16.5" fill="#1a1a1a" textLength="11.2" lengthAdjust="spacingAndGlyphs">0</text>
<text x="80.5" y="483.8" font-size="16.5" fill="#1a1a1a" textLength="22.3" lengthAdjust="spacingAndGlyphs">20</text>
<text x="80.5" y="434.9" font-size="16.5" fill="#1a1a1a" textLength="22.3" lengthAdjust="spacingAndGlyphs">40</text>
<text x="80.5" y="386.0" font-size="16.5" fill="#1a1a1a" textLength="22.3" lengthAdjust="spacingAndGlyphs">60</text>
<text x="80.5" y="337.1" font-size="16.5" fill="#1a1a1a" textLength="22.3" lengthAdjust="spacingAndGlyphs">80</text>
<text x="69.4" y="288.2" font-size="16.5" fill="#1a1a1a" textLength="33.4" lengthAdjust="spacingAndGlyphs">100</text>
<text x="110.5" y="552.8" font-size="16.5" fill="#1a1a1a" textLength="34.0" lengthAdjust="spacingAndGlyphs">400</text>
<text x="185.9" y="552.8" font-size="16.5" fill="#1a1a1a" textLength="34.0" lengthAdjust="spacingAndGlyphs">450</text>
<text x="261.3" y="552.8" font-size="16.5" fill="#1a1a1a" textLength="34.0" lengthAdjust="spacingAndGlyphs">500</text>
<text x="336.7" y="552.8" font-size="16.5" fill="#1a1a1a" textLength="34.0" lengthAdjust="spacingAndGlyphs">550</text>
<text x="412.1" y="552.8" font-size="16.5" fill="#1a1a1a" textLength="34.0" lengthAdjust="spacingAndGlyphs">600</text>
<text x="487.5" y="552.8" font-size="16.5" fill="#1a1a1a" textLength="34.0" lengthAdjust="spacingAndGlyphs">650</text>
<text x="562.9" y="552.8" font-size="16.5" fill="#1a1a1a" textLength="34.0" lengthAdjust="spacingAndGlyphs">700</text>
<text x="638.3" y="552.8" font-size="16.5" fill="#1a1a1a" textLength="34.0" lengthAdjust="spacingAndGlyphs">750</text>
<text x="713.7" y="552.8" font-size="16.5" fill="#1a1a1a" textLength="34.0" lengthAdjust="spacingAndGlyphs">800</text>
<text x="345.0" y="577.7" font-size="16" font-weight="bold" fill="#111" textLength="167" lengthAdjust="spacingAndGlyphs">Wavelength(nm)</text>
<g transform="translate(56.3,528.4) rotate(-90) scale(1,1.31)"><text x="0" y="0" font-size="16" font-weight="bold" fill="#111" textLength="239.4" lengthAdjust="spacingAndGlyphs">Relative Emission Intensity(%)</text></g>
<text x="2" y="201" class="ttl" font-size="20.4" fill="#ee3548" stroke="#ee3548" stroke-width=".25" textLength="275" lengthAdjust="spacingAndGlyphs">Light spectrum diagram CRI &gt; 90</text>
</svg>
</body></html>
